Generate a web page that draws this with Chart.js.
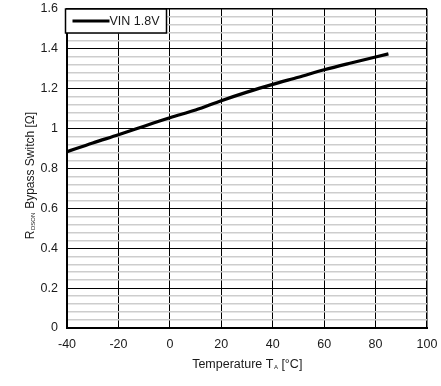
<!DOCTYPE html>
<html>
<head>
<meta charset="utf-8">
<script src="https://cdn.jsdelivr.net/npm/chart.js@4/dist/chart.umd.min.js"></script>
<style>
  html, body { margin: 0; padding: 0; background: #fff; }
  #wrap { width: 441px; height: 386px; }
</style>
</head>
<body>
<div id="wrap"><canvas id="rdsonChart" width="441" height="386"></canvas></div>
<script>
// temperature (°C) and bypass switch resistance (Ω)
var temps = [-40, -30, -20, -10, 0, 10, 20, 30, 40, 50, 60, 70, 85];
var rdson = [0.884, 0.928, 0.969, 1.012, 1.055, 1.093, 1.140, 1.183, 1.222, 1.258, 1.295, 1.328, 1.375];
var seriesName = "VIN 1.8V";
var xTicks = [-40, -20, 0, 20, 40, 60, 80, 100];
var yMajor = [0, 0.2, 0.4, 0.6, 0.8, 1, 1.2, 1.4, 1.6];

var FONT = "'Liberation Sans', Arial, sans-serif";

function isMajorY(v) {
    return Math.abs(v / 0.2 - Math.round(v / 0.2)) < 1e-6;
}

// axis titles with subscripts + boxed legend
var decorPlugin = {
    id: "decor",
    afterDraw: function (chart) {
        var c = chart.ctx, a = chart.chartArea;
        c.save();
        c.fillStyle = "#1a1a1a";
        c.textBaseline = "alphabetic";

        // x title: Temperature T_A [°C]
        var p1 = "Temperature T", sub = "A", p2 = " [°C]";
        c.font = "12.5px " + FONT;
        var w1 = c.measureText(p1).width, w3 = c.measureText(p2).width;
        c.font = "6px " + FONT;
        var w2 = c.measureText(sub).width;
        var x0 = (a.left + a.right) / 2 - (w1 + w2 + w3) / 2, yb = 368;
        c.font = "12.5px " + FONT;
        c.fillText(p1, x0, yb);
        c.font = "6px " + FONT;
        c.fillText(sub, x0 + w1 + 0.5, yb + 1);
        c.font = "12.5px " + FONT;
        c.fillText(p2, x0 + w1 + w2 + 0.5, yb);

        // y title: R_DSON Bypass Switch [Ω]
        c.translate(34, 176);
        c.rotate(-Math.PI / 2);
        var q1 = "R", qs = "DSON", q2 = " Bypass Switch [Ω]";
        c.font = "12px " + FONT;
        var v1 = c.measureText(q1).width, v3 = c.measureText(q2).width;
        c.font = "6px " + FONT;
        var v2 = c.measureText(qs).width;
        var s0 = -(v1 + v2 + v3) / 2;
        c.font = "12px " + FONT;
        c.fillText(q1, s0, 0);
        c.font = "6px " + FONT;
        c.fillText(qs, s0 + v1 + 0.5, 1);
        c.font = "12px " + FONT;
        c.fillText(q2, s0 + v1 + v2 + 1, 0);
        c.restore();

        // legend box
        c.save();
        var lx = a.left - 1.5, ly = a.top, lw = 101, lh = 24;
        c.fillStyle = "#fff";
        c.fillRect(lx, ly, lw, lh);
        c.strokeStyle = "#000";
        c.lineWidth = 1.5;
        c.strokeRect(lx, ly, lw, lh);
        c.beginPath();
        c.lineWidth = 3;
        c.moveTo(lx + 7, ly + 12);
        c.lineTo(lx + 44, ly + 12);
        c.stroke();
        c.fillStyle = "#1a1a1a";
        c.font = "12.5px " + FONT;
        c.textBaseline = "middle";
        c.fillText(chart.data.datasets[0].label, lx + 44, ly + 12.5);
        c.restore();
    }
};

new Chart(document.getElementById("rdsonChart").getContext("2d"), {
    type: "line",
    data: {
        datasets: [{
            label: seriesName,
            data: temps.map(function (t, i) { return { x: t, y: rdson[i] }; }),
            borderColor: "#000",
            borderWidth: 3.2,
            pointRadius: 0,
            cubicInterpolationMode: "monotone",
            fill: false
        }]
    },
    plugins: [decorPlugin],
    options: {
        responsive: false,
        animation: false,
        layout: { padding: { left: 0, right: 14, top: 9, bottom: 0 } },
        plugins: { legend: { display: false }, tooltip: { enabled: false } },
        scales: {
            x: {
                type: "linear",
                min: -40,
                max: 100,
                afterFit: function (s) {
                    s.height = 58;
                    s.paddingLeft = 0;
                    s.paddingRight = 0;
                },
                afterBuildTicks: function (s) {
                    s.ticks = xTicks.map(function (v) { return { value: v }; });
                },
                grid: {
                    drawTicks: false,
                    color: "#000",
                    lineWidth: function (ctx) { return ctx.tick && ctx.tick.value === 100 ? 1.5 : 1; }
                },
                border: { display: true, color: "#000", width: 2 },
                ticks: { padding: 9, color: "#1a1a1a", font: { family: FONT, size: 12.5 } }
            },
            y: {
                min: 0,
                max: 1.6,
                afterFit: function (s) {
                    s.width = 67;
                    s.paddingTop = 0;
                    s.paddingBottom = 0;
                },
                afterBuildTicks: function (s) {
                    var t = [];
                    for (var i = 0; i <= 40; i++) t.push({ value: Math.round(i * 4) / 100 });
                    s.ticks = t;
                },
                grid: {
                    drawTicks: false,
                    color: function (ctx) {
                        return ctx.tick && isMajorY(ctx.tick.value) ? "#000" : "#cdcdcd";
                    },
                    lineWidth: function (ctx) {
                        if (!ctx.tick) return 1;
                        if (Math.abs(ctx.tick.value - 1.6) < 1e-6) return 1.5;
                        return isMajorY(ctx.tick.value) ? 1 : 1.4;
                    }
                },
                border: { display: true, color: "#000", width: 2 },
                ticks: {
                    padding: 9,
                    color: "#1a1a1a",
                    font: { family: FONT, size: 12.5 },
                    autoSkip: false,
                    callback: function (v) {
                        if (!isMajorY(v)) return "";
                        var r = Math.round(v * 10) / 10;
                        return yMajor.indexOf(r) >= 0 ? String(r) : "";
                    }
                }
            }
        }
    }
});
</script>
</body>
</html>
